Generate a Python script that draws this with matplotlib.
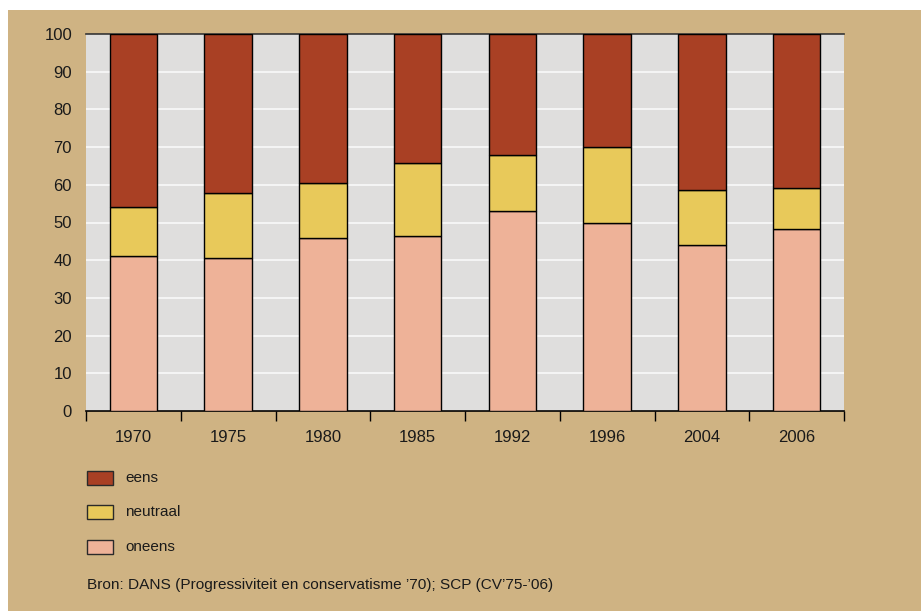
import matplotlib
matplotlib.use("Agg")
import matplotlib.pyplot as plt
from matplotlib.patches import Rectangle
import numpy as np

plt.rcParams['font.family'] = ['Liberation Sans', 'DejaVu Sans']

years = ["1970", "1975", "1980", "1985", "1992", "1996", "2004", "2006"]
oneens = [41.1, 40.6, 46.0, 46.5, 53.0, 50.0, 44.0, 48.4]
neutraal = [12.9, 17.2, 14.4, 19.3, 14.9, 20.0, 14.7, 10.8]
eens = [46.0, 42.2, 39.6, 34.2, 32.1, 30.0, 41.3, 40.8]
yticks = [0, 10, 20, 30, 40, 50, 60, 70, 80, 90, 100]
labels = ["eens", "neutraal", "oneens"]
colors = ["#A94024", "#E8C95A", "#EEB298"]
tan = "#CFB383"
source = "Bron: DANS (Progressiviteit en conservatisme ’70); SCP (CV’75-’06)"

W, H = 921, 611
fig = plt.figure(figsize=(W / 100, H / 100), dpi=100)
fig.patch.set_facecolor("white")
fig.patches.append(Rectangle((8 / W, 0), 1, 1 - 10 / H, transform=fig.transFigure,
                             facecolor=tan, edgecolor="none", zorder=-10))

ax = fig.add_axes([86 / W, 1 - 411 / H, (844 - 86) / W, (411 - 34) / H])
ax.set_facecolor("#DFDEDD")
x = np.arange(len(years))
bw = 0.5
bot2 = np.array(oneens)
bot3 = bot2 + np.array(neutraal)
ax.bar(x, oneens, bw, color=colors[2], edgecolor="black", linewidth=1, zorder=3)
ax.bar(x, neutraal, bw, bottom=bot2, color=colors[1], edgecolor="black", linewidth=1, zorder=3)
ax.bar(x, eens, bw, bottom=bot3, color=colors[0], edgecolor="black", linewidth=1, zorder=3)

ax.set_xlim(-0.5, len(years) - 0.5)
ax.set_ylim(0, 100)
ax.set_yticks(yticks)
ax.set_yticklabels([str(v) for v in yticks], fontsize=12, color="#1a1a1a")
ax.yaxis.grid(True, color="#F4F4F4", linewidth=1.5, zorder=1)
ax.tick_params(axis="y", length=0, pad=10)
ax.set_xticks(x)
ax.set_xticklabels(years, fontsize=12, color="#1a1a1a")
ax.set_xticks(np.arange(len(years) + 1) - 0.5, minor=True)
ax.tick_params(axis="x", which="major", length=0, pad=14)
ax.tick_params(axis="x", which="minor", length=7, width=1, color="black")
for s in ["left", "right"]:
    ax.spines[s].set_visible(False)
ax.spines["top"].set_color("#333333")
ax.spines["top"].set_linewidth(1.2)
ax.spines["bottom"].set_color("black")
ax.spines["bottom"].set_linewidth(1.2)

# legend
leg_y = [478, 512, 547]
for lab, col, yy in zip(labels, colors, leg_y):
    fig.patches.append(Rectangle((87 / W, 1 - (yy + 7) / H), 26 / W, 14 / H,
                                 transform=fig.transFigure, facecolor=col,
                                 edgecolor="#2a2a2a", linewidth=1))
    fig.text(125 / W, 1 - yy / H, lab, fontsize=11, va="center", ha="left", color="#1a1a1a")

st = fig.text(87 / W, 1 - 585 / H, source, fontsize=11, va="center", ha="left", color="#1a1a1a")
renderer = fig.canvas.get_renderer()
wpx = st.get_window_extent(renderer).width
st.set_fontsize(11 * (550 - 87) / wpx)

fig.savefig("out.png", dpi=100, facecolor=fig.get_facecolor())
